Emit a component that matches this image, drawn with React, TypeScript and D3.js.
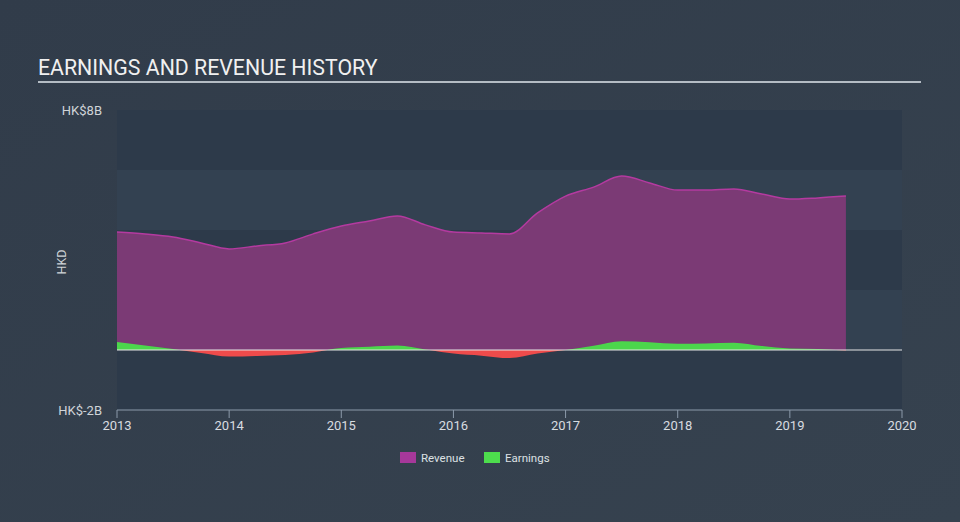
import React from "react";
import * as d3 from "d3";

const years: number[] = [
  2013, 2013.25, 2013.5, 2013.75, 2014, 2014.25, 2014.5, 2014.75, 2015, 2015.25, 2015.5, 2015.75,
  2016, 2016.25, 2016.5, 2016.75, 2017, 2017.25, 2017.5, 2017.75, 2018, 2018.25, 2018.5, 2018.75,
  2019, 2019.25, 2019.5,
];
const revenue: number[] = [
  3.93, 3.87, 3.77, 3.57, 3.37, 3.47, 3.57, 3.87, 4.13, 4.3, 4.47, 4.17,
  3.93, 3.9, 3.87, 4.57, 5.13, 5.43, 5.8, 5.57, 5.33, 5.33, 5.37, 5.2,
  5.03, 5.07, 5.13,
];
const earnings: number[] = [
  0.27, 0.15, 0.03, -0.1, -0.22, -0.2, -0.17, -0.08, 0.07, 0.11, 0.15, 0.02,
  -0.12, -0.19, -0.27, -0.12, 0.0, 0.14, 0.29, 0.26, 0.21, 0.22, 0.24, 0.13,
  0.05, 0.03, -0.02,
];
const xTicks: number[] = [2013, 2014, 2015, 2016, 2017, 2018, 2019, 2020];
const yTickLabels: string[] = ["HK$8B", "HK$-2B"];
const yTickValues: number[] = [8, -2];
const legendLabels: string[] = ["Revenue", "Earnings"];

export default function App() {
  const W = 960, H = 522;
  const left = 117, right = 902, top = 110, bottom = 410;
  const x = d3.scaleLinear().domain([2013, 2020]).range([left, right]);
  const y = d3.scaleLinear().domain([-2, 8]).range([bottom, top]);

  const rev = years.map((t, i) => ({ t, v: revenue[i] }));
  const ear = years.map((t, i) => ({ t, v: earnings[i] }));

  const curve = d3.curveMonotoneX;
  const revArea = d3.area<{ t: number; v: number }>().x(d => x(d.t)).y0(y(0)).y1(d => y(d.v)).curve(curve);
  const revLine = d3.line<{ t: number; v: number }>().x(d => x(d.t)).y(d => y(d.v)).curve(curve);
  const earArea = d3.area<{ t: number; v: number }>().x(d => x(d.t)).y0(y(0)).y1(d => y(d.v)).curve(curve);

  const bands = d3.range(-2, 8, 2);
  const font = "Roboto, 'Open Sans', sans-serif";

  return (
    <svg width={W} height={H} style={{ position: "absolute", left: 0, top: 0 }} fontFamily={font}>
      <defs>
        <linearGradient id="bg" x1="0" y1="0" x2="1" y2="1">
          <stop offset="0%" stopColor="#313c4a" />
          <stop offset="100%" stopColor="#36424f" />
        </linearGradient>
        <clipPath id="above">
          <rect x={0} y={0} width={W} height={y(0)} />
        </clipPath>
        <clipPath id="below">
          <rect x={0} y={y(0)} width={W} height={H} />
        </clipPath>
      </defs>
      <rect width={W} height={H} fill="url(#bg)" />
      <text x={38} y={75} fill="#f0f0f0" fontSize={21.3}>EARNINGS AND REVENUE HISTORY</text>
      <line x1={38} x2={921} y1={82} y2={82} stroke="#b4bcc4" strokeWidth={2} />

      {bands.map((b, i) => (
        <rect key={b} x={left} width={right - left} y={y(b + 2)} height={y(b) - y(b + 2)}
          fill={i % 2 === 0 ? "#2d3a4a" : "#334151"} />
      ))}

      <path d={revArea(rev) || ""} fill="#7b3a75" />
      <path d={revLine(rev) || ""} fill="none" stroke="#b43aa0" strokeWidth={1.5} />

      <path d={earArea(ear) || ""} fill="#4cd64c" clipPath="url(#above)" />
      <path d={earArea(ear) || ""} fill="#ef4b4b" clipPath="url(#below)" />

      <line x1={left} x2={right} y1={y(0)} y2={y(0)} stroke="#e6e6e6" strokeWidth={1} />

      {yTickValues.map((v, i) => (
        <text key={v} x={102} y={y(v) + 4.5} textAnchor="end" fill="#d0d4d8" fontSize={13}>{yTickLabels[i]}</text>
      ))}
      <text transform={`translate(66,${(top + bottom) / 2 + 2}) rotate(-90)`} textAnchor="middle" fill="#d0d4d8" fontSize={12.5}>HKD</text>

      <line x1={left} x2={right} y1={bottom} y2={bottom} stroke="#8c9aaa" strokeWidth={1} />
      {xTicks.map(t => (
        <g key={t}>
          <line x1={x(t)} x2={x(t)} y1={bottom} y2={bottom + 8} stroke="#8c9aaa" strokeWidth={1} />
          <text x={x(t)} y={bottom + 20} textAnchor="middle" fill="#d8dce0" fontSize={13}>{t}</text>
        </g>
      ))}

      <rect x={400} y={452} width={16} height={11} fill="#a6389a" />
      <text x={421} y={462} fill="#dde0e4" fontSize={11.5}>{legendLabels[0]}</text>
      <rect x={484} y={452} width={16} height={11} fill="#4ddd4d" />
      <text x={505} y={462} fill="#dde0e4" fontSize={11.5}>{legendLabels[1]}</text>
    </svg>
  );
}
